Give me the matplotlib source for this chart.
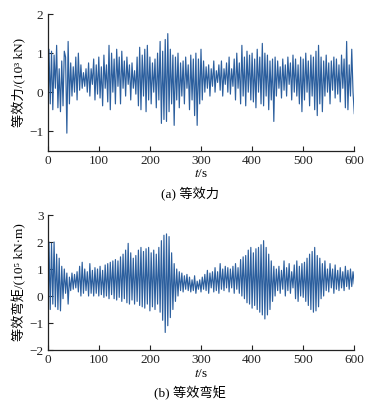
import numpy as np
import matplotlib
matplotlib.use("Agg")
import matplotlib.pyplot as plt

plt.rcParams['font.family'] = ['Liberation Serif', 'Noto Sans CJK SC', 'DejaVu Serif']
plt.rcParams['mathtext.fontset'] = 'stix'
plt.rcParams['axes.unicode_minus'] = True

# time step 2.5 s, 0..600 s
force = [
    -1.2, 1.1, -0.3, 1.05, -0.45, 0.95, 0.1, 1.2, -0.4, 0.6, -0.5, 0.8, -0.35, 1.05, 0.9, -1.05, 1.3, -0.3, 0.75, -0.1,
    0.65, 0.0, 0.9, -0.2, 1.0, 0.05, 0.7, 0.1, 0.5, 0.15, 0.6, 0.0, 0.75, -0.1, 0.6, 0.2, 0.85, -0.2, 0.7, -0.05,
    0.9, -0.15, 0.65, -0.35, 0.95, 0.1, 0.7, -0.25, 1.2, -0.45, 1.0, 0.0, 0.85, -0.3, 1.1, 0.15, 0.9, -0.3, 1.05, 0.1,
    0.8, -0.1, 0.9, 0.2, 0.7, -0.2, 0.75, 0.1, 0.55, -0.05, 0.9, -0.35, 1.15, -0.45, 0.95, -0.1, 1.1, -0.5, 1.2, -0.2,
    0.9, -0.3, 0.75, 0.0, 0.85, -0.4, 1.0, -0.2, 1.3, -0.8, 1.05, -0.7, 1.35, -0.75, 1.5, -0.5, 1.1, -0.3, 0.95, -0.85,
    0.9, -0.2, 1.0, -0.4, 0.75, -0.1, 0.8, -0.3, 0.9, 0.1, 0.7, -0.45, 0.95, -0.2, 0.85, -0.6, 1.0, -0.85, 0.85, -0.3,
    1.1, -0.2, 0.8, 0.0, 0.65, 0.1, 0.7, -0.1, 0.6, 0.15, 0.8, 0.0, 0.55, 0.25, 0.7, 0.05, 0.8, -0.1, 0.6, 0.2,
    0.75, 0.0, 0.9, -0.05, 0.6, 0.15, 0.85, -0.2, 1.0, 0.1, 0.75, -0.3, 1.2, -0.1, 0.9, -0.35, 1.05, 0.0, 0.95, -0.2,
    1.0, -0.25, 0.85, -0.4, 1.1, 0.0, 0.9, -0.3, 1.25, -0.35, 1.0, -0.1, 0.95, -0.45, 0.8, -0.2, 0.85, -0.75, 0.9, -0.1,
    0.8, 0.1, 0.65, -0.15, 0.85, 0.05, 0.7, -0.1, 0.9, 0.2, 0.75, -0.2, 0.95, 0.0, 0.85, -0.1, 0.7, -0.3, 0.9, -0.5,
    0.85, -0.2, 1.0, 0.0, 0.8, -0.35, 0.95, -0.1, 0.9, -0.45, 1.05, -0.6, 1.2, -0.3, 0.9, -0.5, 0.8, -0.1, 0.95, 0.0,
    0.75, -0.3, 0.8, 0.05, 0.9, -0.15, 0.85, -0.05, 0.7, -0.25, 0.95, 0.1, 0.85, -0.4, 1.3, -0.45, 0.7, -0.1, 1.1, 0.0,
    -0.55,
]

moment = [
    -2.0, 2.0, -0.5, 1.95, -0.3, 2.0, -0.4, 1.55, -0.5, 1.4, -0.55, 1.1, -0.1, 1.0, 0.1, 0.85, -0.3, 0.7, 0.2, 0.85,
    0.25, 0.8, 0.3, 0.9, 0.15, 1.1, 0.0, 1.25, 0.1, 1.0, 0.2, 0.9, 0.0, 1.2, 0.1, 0.95, 0.0, 1.05, 0.1, 1.0,
    0.0, 1.1, 0.05, 0.95, -0.05, 1.15, 0.0, 1.2, -0.1, 1.25, 0.05, 1.3, -0.1, 1.35, -0.15, 1.3, -0.05, 1.45, -0.2, 1.55,
    -0.1, 1.7, -0.25, 1.95, -0.3, 1.6, -0.15, 1.4, -0.3, 1.5, -0.2, 1.7, -0.35, 1.8, -0.4, 1.65, -0.45, 1.75, -0.3, 1.8,
    -0.55, 1.6, -0.4, 1.7, -0.5, 1.55, -0.3, 1.8, -0.6, 2.05, -0.9, 2.25, -1.35, 2.3, -1.1, 2.2, -0.8, 1.6, -0.5, 1.2,
    -0.2, 1.0, 0.0, 0.9, 0.2, 0.85, 0.15, 0.75, 0.25, 0.8, 0.2, 0.7, 0.15, 0.6, 0.2, 0.75, 0.1, 0.55, 0.25, 0.6,
    0.15, 0.7, 0.25, 0.8, 0.2, 0.95, 0.1, 0.85, 0.3, 0.9, 0.15, 1.05, 0.2, 0.9, 0.1, 1.2, 0.25, 1.0, 0.2, 1.1,
    0.3, 1.05, 0.15, 1.0, 0.3, 1.1, 0.1, 1.2, 0.25, 1.05, 0.1, 1.35, 0.0, 1.45, -0.1, 1.5, -0.25, 1.7, -0.3, 1.8,
    -0.45, 1.6, -0.35, 1.75, -0.5, 1.8, -0.6, 1.9, -0.7, 2.05, -0.85, 1.8, -0.7, 1.55, -0.5, 1.3, -0.2, 1.1, 0.0, 1.0,
    0.2, 1.1, 0.1, 0.95, 0.25, 1.3, 0.0, 1.05, 0.2, 1.2, 0.1, 0.9, 0.3, 1.15, -0.1, 1.3, -0.2, 1.1, 0.0, 1.2,
    -0.05, 1.25, -0.2, 1.4, -0.35, 1.55, -0.5, 1.65, -0.6, 1.8, -0.55, 1.5, -0.4, 1.4, -0.1, 1.2, 0.0, 1.3, 0.2, 1.0,
    0.15, 1.2, 0.3, 1.0, 0.1, 1.15, 0.25, 0.95, 0.2, 1.05, 0.3, 0.9, 0.2, 1.1, 0.35, 0.95, 0.25, 1.0, 0.35, 0.9,
    0.45,
]

time = np.linspace(0, 600, len(force))
xticks = [0, 100, 200, 300, 400, 500, 600]

line_color = '#2c5f9e'
fs = 9.5

fig = plt.figure(figsize=(3.77, 4.03), dpi=100)
ax1 = fig.add_axes([0.1265, 0.626, 0.8133, 0.339])
ax2 = fig.add_axes([0.1265, 0.1315, 0.8133, 0.335])

for ax in (ax1, ax2):
    for s in ('top', 'right'):
        ax.spines[s].set_visible(False)
    for s in ('left', 'bottom'):
        ax.spines[s].set_linewidth(0.9)
        ax.spines[s].set_color('#222222')
    ax.tick_params(direction='in', length=3.5, width=0.8, labelsize=fs, colors='#222222', pad=3)
    ax.set_xlim(0, 600)
    ax.set_xticks(xticks)
    ax.set_xlabel('$t$/s', fontsize=fs, labelpad=1)

ax1.plot(time, force, color=line_color, lw=0.85)
ax1.set_ylim(-1.5, 2)
ax1.set_yticks([-1, 0, 1, 2])
ax1.set_ylabel('等效力/(10³ kN)', fontsize=fs, labelpad=2)

ax2.plot(time, moment, color=line_color, lw=0.85)
ax2.set_ylim(-2, 3)
ax2.set_yticks([-2, -1, 0, 1, 2, 3])
ax2.set_ylabel('等效弯矩/(10⁵ kN·m)', fontsize=fs, labelpad=2)

fig.text(0.505, 0.518, '(a) 等效力', ha='center', va='center', fontsize=fs)
fig.text(0.505, 0.025, '(b) 等效弯矩', ha='center', va='center', fontsize=fs)

fig.savefig('out.png', dpi=100)
